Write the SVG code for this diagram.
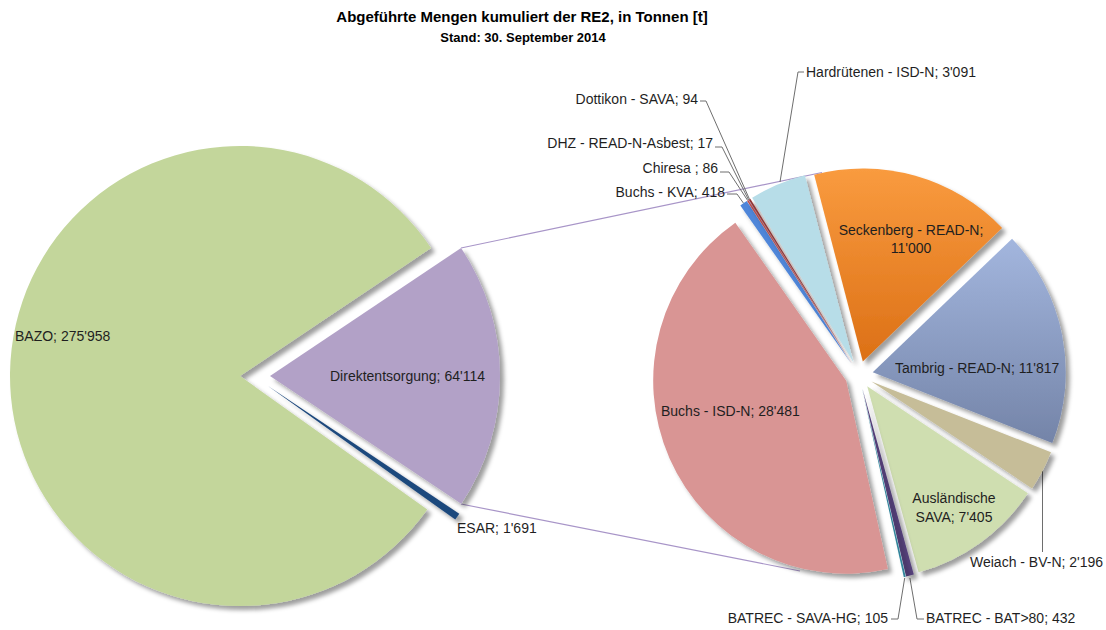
<svg xmlns="http://www.w3.org/2000/svg" width="1106" height="630" viewBox="0 0 1106 630">
<style>
text{font-family:"Liberation Sans",Arial,sans-serif;fill:#1f1f1f;font-size:14px}
.title{font-weight:bold;font-size:15px;fill:#000}
.sub{font-weight:bold;font-size:13px;fill:#000}
.leader{fill:none;stroke:#6e6e6e;stroke-width:1}
.conn{fill:none;stroke:#a895c8;stroke-width:1.2}
.sl{filter:url(#sh)}
</style>
<defs>
<filter id="sh" filterUnits="userSpaceOnUse" x="0" y="0" width="1106" height="630">
<feDropShadow dx="4" dy="4" stdDeviation="2" flood-color="#000" flood-opacity="0.38"/>
</filter>
<linearGradient id="gOrange" x1="0" y1="0" x2="0" y2="1">
<stop offset="0" stop-color="#f99b3f"/><stop offset="1" stop-color="#dc7016"/>
</linearGradient>
<linearGradient id="gBlue" x1="0" y1="0" x2="0" y2="1">
<stop offset="0" stop-color="#a3b6de"/><stop offset="1" stop-color="#7484a8"/>
</linearGradient>
</defs>
<rect width="1106" height="630" fill="#fff"/>

<g id="title">
<text class="title" x="522" y="22" text-anchor="middle">Abgeführte Mengen kumuliert der RE2, in Tonnen [t]</text>
<text class="sub" x="523" y="42" text-anchor="middle">Stand: 30. September 2014</text>
</g>

<g id="connectors">
<line class="conn" x1="461" y1="248" x2="822" y2="172.5"/>
<line class="conn" x1="461" y1="504" x2="800" y2="571"/>
<polyline class="leader" points="780,182 798,72 804,72"/>
<polyline class="leader" points="749.5,199.3 706,101 700,101"/>
<polyline class="leader" points="748.6,199.9 722,147 715,147"/>
<polyline class="leader" points="747.7,200.5 729,172 720,172"/>
<polyline class="leader" points="743.5,203.2 737,194 727,194"/>
<polyline class="leader" points="1042.5,471 1042.5,552"/>
<polyline class="leader" points="904.7,578 898,619 891,619"/>
<polyline class="leader" points="909.9,578 917,619 924,619"/>
</g>

<g id="left-pie">
<g id="bazo" class="sl"><path d="M240,376 L427.25,509.56 A230,230 0 1,1 431.05,247.94 Z" fill="#c3d69b"/></g>
<g id="direktentsorgung" class="sl"><path d="M270,376 L461.05,247.94 A230,230 0 0,1 461.28,503.72 Z" fill="#b2a1c7"/></g>
<g id="esar" class="sl"><path d="M268,386 L459.28,513.72 A230,230 0 0,1 455.25,519.56 Z" fill="#1f497d"/></g>
</g>

<g id="right-pie">
<g id="seckenberg" class="sl"><path d="M862.81,361.53 L814.16,174.76 A193,193 0 0,1 1002.12,227.95 Z" fill="url(#gOrange)"/></g>
<g id="tambrig" class="sl"><path d="M872.74,372.29 L1012.05,238.71 A193,193 0 0,1 1052.31,443.02 Z" fill="url(#gBlue)"/></g>
<g id="weiach" class="sl"><path d="M871.41,381.48 L1050.98,452.21 A193,193 0 0,1 1032.08,488.40 Z" fill="#c6bd98"/></g>
<g id="auslaendische" class="sl"><path d="M867.21,386.34 L1027.88,493.26 A193,193 0 0,1 918.59,572.37 Z" fill="#cfdeb0"/></g>
<g id="batrec-bat80" class="sl"><path d="M862.44,388.57 L913.82,574.60 A193,193 0 0,1 906.03,576.58 Z" fill="#54407a"/></g>
<g id="batrec-savahg" class="sl"><path d="M862.09,388.65 L905.68,576.66 A193,193 0 0,1 903.77,577.10 Z" fill="#31849b"/></g>
<g id="buchs-isdn" class="sl"><path d="M846.19,380.64 L887.87,569.09 A193,193 0 0,1 735.31,222.68 Z" fill="#d99594"/></g>
<g id="buchs-kva" class="sl"><path d="M851.19,363.38 L740.31,205.42 A193,193 0 0,1 746.78,201.06 Z" fill="#4f86d9"/></g>
<g id="chiresa" class="sl"><path d="M851.47,363.20 L747.06,200.88 A193,193 0 0,1 748.38,200.04 Z" fill="#c0504d"/></g>
<g id="dhz" class="sl"><path d="M851.53,363.16 L748.44,200.00 A193,193 0 0,1 748.71,199.83 Z" fill="#8064a2"/></g>
<g id="dottikon" class="sl"><path d="M851.60,363.12 L748.78,199.79 A193,193 0 0,1 750.29,198.85 Z" fill="#943634"/></g>
<g id="hardruetenen" class="sl"><path d="M853.50,362.13 L752.19,197.86 A193,193 0 0,1 804.85,175.36 Z" fill="#b7dde8"/></g>
</g>

<g id="labels">
<text x="15" y="341">BAZO; 275'958</text>
<text x="330" y="381">Direktentsorgung; 64'114</text>
<text x="457" y="533">ESAR; 1'691</text>
<text x="911" y="235" text-anchor="middle">Seckenberg - READ-N;</text>
<text x="911" y="253" text-anchor="middle">11'000</text>
<text x="895" y="373">Tambrig - READ-N; 11'817</text>
<text x="661" y="416">Buchs - ISD-N; 28'481</text>
<text x="954" y="503" text-anchor="middle">Ausländische</text>
<text x="954" y="522" text-anchor="middle">SAVA; 7'405</text>
<text x="970" y="567">Weiach - BV-N; 2'196</text>
<text x="888" y="623" text-anchor="end">BATREC - SAVA-HG; 105</text>
<text x="926" y="623">BATREC - BAT&gt;80; 432</text>
<text x="806" y="77">Hardrütenen - ISD-N; 3'091</text>
<text x="698" y="104" text-anchor="end">Dottikon - SAVA; 94</text>
<text x="713" y="148" text-anchor="end">DHZ - READ-N-Asbest; 17</text>
<text x="718" y="173" text-anchor="end">Chiresa ; 86</text>
<text x="725" y="197" text-anchor="end">Buchs - KVA; 418</text>
</g>
</svg>
